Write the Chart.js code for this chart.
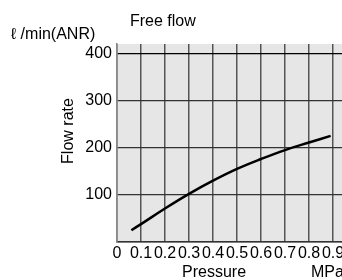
<!DOCTYPE html>
<html>
<head>
<meta charset="utf-8">
<script src="https://cdn.jsdelivr.net/npm/chart.js@4"></script>
<style>
    html, body { margin: 0; padding: 0; background: #fff; overflow: hidden; }
    #wrap { width: 380px; height: 280px; }
</style>
</head>
<body>
<div id="wrap"><canvas id="flowChart" width="380" height="280"></canvas></div>
<script>
// ====== data ======
const pressure = [0.06, 0.1, 0.2, 0.3, 0.4, 0.5, 0.6, 0.7, 0.8, 0.89];   // MPa
const flowRate = [25, 38, 71, 102, 130, 155, 176, 195, 211, 225];       // l/min (ANR)

const xTickValues = [0, 0.1, 0.2, 0.3, 0.4, 0.5, 0.6, 0.7, 0.8, 0.9];
const xTickLabels = ["0", "0.1", "0.2", "0.3", "0.4", "0.5", "0.6", "0.7", "0.8", "0.9"];
const yTickLabels = ["100", "200", "300", "400"];

const FONT = "'Liberation Sans', Helvetica, Arial, sans-serif";

// grey plot background + free text labels
const decorPlugin = {
    id: "decor",
    beforeDraw(chart) {
        const { ctx, chartArea: a } = chart;
        ctx.save();
        ctx.fillStyle = "#e6e6e6";
        ctx.fillRect(a.left, a.top, a.right - a.left, a.bottom - a.top);
        ctx.restore();
    },
    afterDraw(chart) {
        const { ctx, chartArea: a } = chart;
        ctx.save();
        ctx.fillStyle = "#000";
        ctx.font = "16px " + FONT;
        ctx.textBaseline = "middle";
        ctx.textAlign = "left";
        ctx.fillText("Free flow", a.left + 13, 22);
        ctx.fillText("ℓ /min(ANR)", 11, 35);
        ctx.fillText("Pressure", 182, 273);
        ctx.fillText("MPa", 311, 273);

        ctx.translate(69, 131);
        ctx.rotate(-Math.PI / 2);
        ctx.textAlign = "center";
        ctx.fillText("Flow rate", 0, 0);
        ctx.restore();
    }
};

document.addEventListener("DOMContentLoaded", () => {
    const ctx = document.getElementById("flowChart");

    new Chart(ctx, {
        type: "line",
        data: {
            datasets: [
                {
                    label: "Free flow",
                    data: pressure.map((p, i) => ({ x: p, y: flowRate[i] })),
                    borderColor: "#000",
                    borderWidth: 2.5,
                    pointRadius: 0,
                    tension: 0.4
                }
            ]
        },
        options: {
            responsive: false,
            animation: false,
            layout: { padding: { top: 44, right: 23, left: 0, bottom: 0 } },
            plugins: {
                legend: { display: false },
                tooltip: { enabled: false }
            },
            scales: {
                x: {
                    type: "linear",
                    min: 0,
                    max: 1.0,
                    afterBuildTicks(scale) {
                        scale.ticks = xTickValues.concat([1.0]).map(v => ({ value: v }));
                    },
                    afterFit(scale) { scale.height = 38; },
                    ticks: {
                        autoSkip: false,
                        maxRotation: 0,
                        padding: 2,
                        color: "#000",
                        font: { family: FONT, size: 16 },
                        callback: (v) => {
                            const i = xTickValues.findIndex(t => Math.abs(t - v) < 1e-6);
                            return i >= 0 ? xTickLabels[i] : "";
                        }
                    },
                    grid: {
                        color: "#555",
                        lineWidth: 1.5,
                        drawTicks: false
                    },
                    border: { color: "#333", width: 1.5 }
                },
                y: {
                    min: 0,
                    max: 420,
                    afterBuildTicks(scale) {
                        scale.ticks = [0, 100, 200, 300, 400].map(v => ({ value: v }));
                    },
                    afterFit(scale) { scale.width = 117; },
                    ticks: {
                        padding: 5,
                        color: "#000",
                        font: { family: FONT, size: 16 },
                        callback: (v) => {
                            const i = yTickLabels.indexOf(String(v));
                            return i >= 0 ? yTickLabels[i] : "";
                        }
                    },
                    grid: {
                        color: (c) => c.tick && c.tick.value === 400 ? "#000" : "#333",
                        lineWidth: 1.3,
                        drawTicks: false
                    },
                    border: { color: "#888", width: 1.5 }
                }
            }
        },
        plugins: [decorPlugin]
    });
});
</script>
</body>
</html>
